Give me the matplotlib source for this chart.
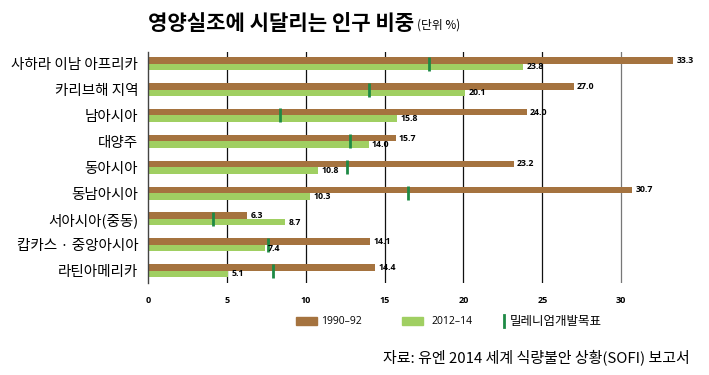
import matplotlib
matplotlib.use("Agg")
from matplotlib import pyplot as plt
from matplotlib.patches import Rectangle
from matplotlib.lines import Line2D
import numpy as np

# 데이터
regions = ["사하라 이남 아프리카", "카리브해 지역", "남아시아", "대양주", "동아시아",
           "동남아시아", "서아시아(중동)", "캅카스 · 중앙아시아", "라틴아메리카"]
val_1990 = [33.3, 27.0, 24.0, 15.7, 23.2, 30.7, 6.3, 14.1, 14.4]
val_2012 = [23.8, 20.1, 15.8, 14.0, 10.8, 10.3, 8.7, 7.4, 5.1]
mdg_goal = [17.8, 14.0, 8.4, 12.8, 12.6, 16.5, 4.1, 7.6, 7.9]
xticks = [0, 5, 10, 15, 20, 25, 30]

brown = "#a5733f"
green = "#a0cf62"
dark_green = "#1e8a45"

plt.rcParams['font.family'] = ['Noto Sans CJK KR', 'DejaVu Sans']

fig = plt.figure(figsize=(7.09, 3.75), dpi=100)
ax = fig.add_axes([0.2087, 0.2453, 0.7786, 0.616])

y = np.arange(len(regions))
h = 0.25

# 막대
ax.barh(y - h / 2, val_1990, height=h, color=brown, zorder=2)
ax.barh(y + h / 2, val_2012, height=h, color=green, zorder=2)

# 밀레니엄개발목표 표시
ax.vlines(mdg_goal, y - 0.27, y + 0.27, color=dark_green, linewidth=2, zorder=3)

# 값 표시
for i in range(len(regions)):
    ax.text(val_1990[i] + 0.2, y[i] - h / 2, "{:.1f}".format(val_1990[i]),
            family="Open Sans", fontweight="bold", fontsize=6.3,
            va="center", ha="left", zorder=4)
    ax.text(val_2012[i] + 0.2, y[i] + h / 2, "{:.1f}".format(val_2012[i]),
            family="Open Sans", fontweight="bold", fontsize=6.3,
            va="center", ha="left", zorder=4)

# 축
ax.set_xlim(0, 35)
ax.set_ylim(8.475, -0.45)
ax.set_yticks(y)
ax.set_yticklabels(regions, fontsize=10.5)
ax.set_xticks(xticks)
ax.set_xticklabels([str(t) for t in xticks], family="Open Sans",
                   fontweight="bold", fontsize=6.5)
ax.tick_params(axis="both", length=0)
ax.tick_params(axis="x", pad=9)
ax.tick_params(axis="y", pad=7)

for s in ["top", "right", "bottom"]:
    ax.spines[s].set_visible(False)
ax.spines["left"].set_color("#444444")
ax.spines["left"].set_linewidth(1)

ax.grid(axis="x", color="#111111", linewidth=0.9, zorder=0)
ax.set_axisbelow(True)
ax.get_xgridlines()[0].set_visible(False)
ax.get_xgridlines()[-1].set_color("#777777")

# 제목
fig.text(148 / 709, 1 - 24 / 375, "영양실조에 시달리는 인구 비중",
         fontsize=15.2, fontweight="bold", va="center", ha="left")
fig.text(417 / 709, 1 - 25 / 375, "(단위 %)", fontsize=8.5,
         va="center", ha="left")

# 범례
leg_y = 1 - 321 / 375
fig.patches.append(Rectangle((296 / 709, leg_y - 4 / 375), 21 / 709, 8 / 375,
                             color=brown, transform=fig.transFigure))
fig.text(321 / 709, leg_y, "1990–92", family="Open Sans", fontsize=7.5,
         va="center", ha="left")
fig.patches.append(Rectangle((402 / 709, leg_y - 4 / 375), 21 / 709, 8 / 375,
                             color=green, transform=fig.transFigure))
fig.text(431 / 709, leg_y, "2012–14", family="Open Sans", fontsize=7.5,
         va="center", ha="left")
fig.lines.append(Line2D([504 / 709, 504 / 709], [leg_y - 6 / 375, leg_y + 6 / 375],
                        color=dark_green, linewidth=2, transform=fig.transFigure))
fig.text(510 / 709, leg_y, "밀레니엄개발목표", fontsize=9, va="center", ha="left")

# 출처
fig.text(690 / 709, 1 - 357 / 375, "자료: 유엔 2014 세계 식량불안 상황(SOFI) 보고서",
         fontsize=10.8, va="center", ha="right")

plt.savefig("out.png", dpi=100)
